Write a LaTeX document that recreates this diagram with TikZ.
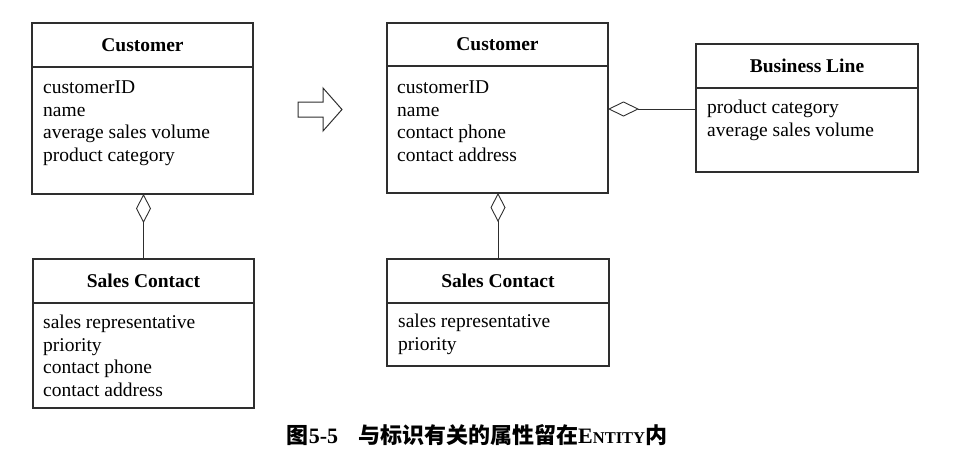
\documentclass[tikz,border=0pt]{standalone}
\usepackage{fontspec}
\setmainfont{Liberation Serif}
\newfontfamily\cjk{Noto Sans CJK SC}
\usetikzlibrary{calc,arrows.meta}
\definecolor{linec}{gray}{0.18}
\newcommand\attrlist[5]{%
  \foreach \t [count=\i] in {#5} {%
    \node[attr] (#1\i) at ($(#2.north west)+(#3,{#4+22.6*\i-22.6})$) {\t};}}
\tikzset{
  box/.style={draw=linec, line width=1.2pt, inner sep=0pt, outer sep=0pt, anchor=north west},
  hdr/.style={font=\fontsize{19.5}{22.6}\selectfont\bfseries, inner sep=0pt},
  attr/.style={font=\fontsize{19.5}{22.6}\selectfont, anchor=base west, inner sep=0pt},
  agg/.style={draw=linec, line width=0.9pt,
    -{Diamond[open, length=29pt, width=15pt, line width=0.9pt]}},
  aggh/.style={draw=linec, line width=0.9pt,
    -{Diamond[open, length=31pt, width=15pt, line width=0.9pt]}},
}
\begin{document}
\begin{tikzpicture}[x=1pt, y=-1pt]
\useasboundingbox (0,0) rectangle (970,458);

% left Customer
\node[box, minimum width=221pt, minimum height=44pt] (c1h) at (32,23) {};
\node[box, minimum width=221pt, minimum height=127pt] (c1b) at (c1h.south west) {};
\node[hdr] (c1t) at (c1h.center) {Customer};
\attrlist{c1a}{c1b}{11}{26.5}{customerID, name, average sales volume, product category}

% left Sales Contact
\node[box, minimum width=221pt, minimum height=44pt] (s1h) at (33,259) {};
\node[box, minimum width=221pt, minimum height=105pt] (s1b) at (s1h.south west) {};
\node[hdr] (s1t) at (s1h.center) {Sales Contact};
\attrlist{s1a}{s1b}{10}{25.5}{sales representative, priority, contact phone, contact address}

\draw[agg] (s1h.north) -- (s1h.north |- c1b.south);

% block arrow
\draw[draw=linec, line width=1pt, line join=miter]
  (298,102) -- (323,102) -- (323,88) -- (342,109.5) -- (323,131) -- (323,117) -- (298,117) -- cycle;

% right Customer
\node[box, minimum width=221pt, minimum height=43pt] (c2h) at (387,23) {};
\node[box, minimum width=221pt, minimum height=127pt] (c2b) at (c2h.south west) {};
\node[hdr] (c2t) at (c2h.center) {Customer};
\attrlist{c2a}{c2b}{10}{27.5}{customerID, name, contact phone, contact address}

% right Sales Contact
\node[box, minimum width=222pt, minimum height=44pt] (s2h) at (387,259) {};
\node[box, minimum width=222pt, minimum height=63pt] (s2b) at (s2h.south west) {};
\node[hdr] (s2t) at (s2h.center) {Sales Contact};
\attrlist{s2a}{s2b}{11}{24.5}{sales representative, priority}

\draw[agg] (s2h.north) -- (s2h.north |- c2b.south);

% Business Line
\node[box, minimum width=222pt, minimum height=44pt] (bh) at (696,44) {};
\node[box, minimum width=222pt, minimum height=84pt] (bb) at (bh.south west) {};
\node[hdr] (bt) at (bh.center) {Business Line};
\attrlist{ba}{bb}{11}{25.5}{product category, average sales volume}

\coordinate (j) at ($(bb.north west)+(0,21)$);
\draw[aggh] (j) -- (j -| c2b.east);

% caption
\node[font=\fontsize{22}{24}\selectfont\bfseries, inner sep=0pt] (cap) at (477,435)
  {{\cjk 图}5-5\hspace{20pt}{\cjk 与标识有关的属性留在}E{\fontsize{16.5}{16.5}\selectfont NTITY}{\cjk 内}};
\end{tikzpicture}
\end{document}
